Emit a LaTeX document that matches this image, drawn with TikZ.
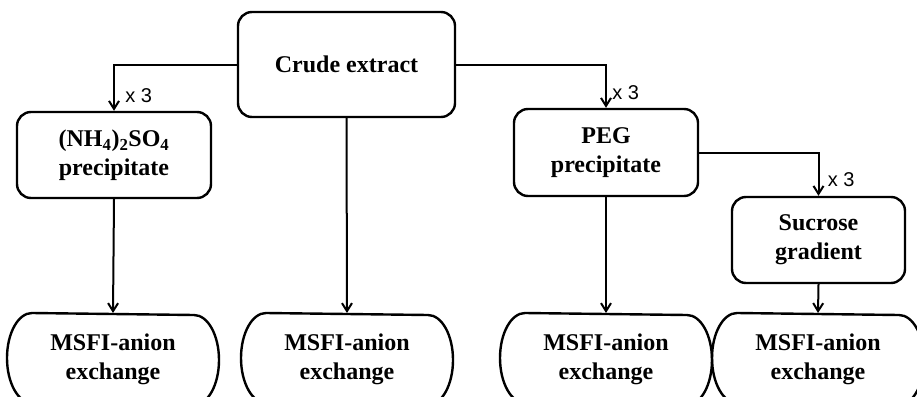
\documentclass[tikz,border=0pt]{standalone}
\usepackage{fontspec}
\setmainfont{Liberation Serif}
\newfontfamily\lblfont{Liberation Sans}
\usetikzlibrary{arrows.meta}

\begin{document}
\begin{tikzpicture}[x=1pt, y=-1pt, line width=2pt,
  main/.style = {draw, line width=2.4pt, rounded corners=14pt, align=center, font=\fontsize{24}{29}\selectfont\bfseries},
  last/.style = {minimum width=210pt, minimum height=90pt, align=center, font=\fontsize{24}{29}\selectfont\bfseries},
  outline/.style = {line width=2.4pt},
  arr/.style = {-{Straight Barb[length=8pt,width=10pt]}},
  rep/.style = {font=\lblfont\fontsize{20}{22}\selectfont}]
\useasboundingbox (0,0) rectangle (917,396);
\clip (0,0) rectangle (917,396);
\node[main, minimum width=217pt, minimum height=105pt] (1) at (346.5,64.5) {Crude extract};
\node[main, minimum width=194pt, minimum height=86pt] (2) at (114,155) {(NH\textsubscript{4})\textsubscript{2}SO\textsubscript{4}\\precipitate};
\node[main, minimum width=184pt, minimum height=87pt] (3) at (606,152.5) {PEG\\precipitate};
\node[main, minimum width=173pt, minimum height=86pt] (4) at (818.5,240) {Sucrose\\gradient};
\node[last] (5) at (113,359) {MSFI-anion\\exchange};
\node[last] (6) at (347,359) {MSFI-anion\\exchange};
\node[last] (7) at (606,359) {MSFI-anion\\exchange};
\node[last] (8) at (818,359) {MSFI-anion\\exchange};
\foreach \n in {5,...,8}
  \draw[outline] ([xshift=25pt]\n.north west)
    arc[start angle=90, end angle=270, x radius=25pt, y radius=45pt]
    -- ([xshift=-25pt]\n.south east)
    arc[start angle=-90, end angle=90, x radius=25pt, y radius=45pt] -- cycle;
\draw[arr] (1.west) -| node[rep, pos=0.84, right=7pt] {x 3} (2.north);
\draw[arr] (1.east) -| node[rep, pos=0.83, right=2pt] {x 3} (3.north);
\draw[arr] (3.east) -| node[rep, pos=0.81, right=5pt] {x 3} (4.north);
\draw[arr] (2.south) -- (5.north);
\draw[arr] (1.south) -- (6.north);
\draw[arr] (3.south) -- (7.north);
\draw[arr] (4.south) -- (8.north);
\end{tikzpicture}
\end{document}
